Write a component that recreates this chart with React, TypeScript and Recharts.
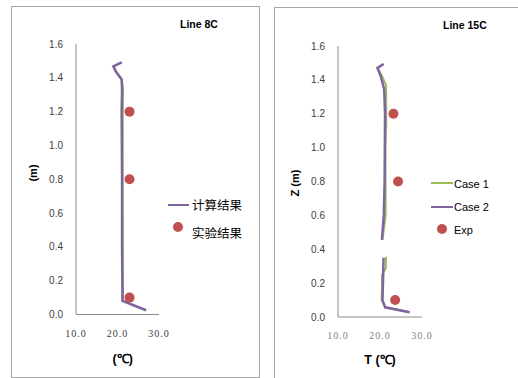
import React from 'react';
import { ScatterChart, Scatter, XAxis, YAxis } from 'recharts';

// ---- Data (T in °C, z in m) ----
const xTicks = [10, 20, 30];
const yTicks = [0, 0.2, 0.4, 0.6, 0.8, 1.0, 1.2, 1.4, 1.6];

// Line 8C
const left8CCalcT = [21.0, 19.0, 19.6, 21.0, 21.1, 21.0, 21.1, 21.1, 21.2, 26.9];
const left8CCalcZ = [1.492, 1.468, 1.437, 1.39, 1.33, 1.2, 0.8, 0.4, 0.08, 0.025];
const left8CHiddenT = [21.0, 19.1, 19.7, 21.1, 21.4, 21.35, 21.3, 21.35, 21.4, 26.9];
const left8CHiddenZ = [1.492, 1.468, 1.437, 1.39, 1.33, 1.2, 0.8, 0.3, 0.08, 0.025];
const left8CExpT = [22.9, 22.9, 22.9];
const left8CExpZ = [1.2, 0.8, 0.1];

// Line 15C
const case2UpperT = [20.84, 19.4, 20.2, 21.0, 21.2, 21.1, 20.9, 20.45];
const case2UpperZ = [1.494, 1.47, 1.42, 1.344, 1.2, 0.8, 0.6, 0.455];
const case2LowerT = [20.84, 20.8, 20.6, 21.24, 27.06];
const case2LowerZ = [0.35, 0.297, 0.1, 0.057, 0.028];
const case1UpperT = [20.84, 19.4, 20.3, 21.45, 21.5, 21.3, 21.35, 20.6];
const case1UpperZ = [1.494, 1.47, 1.43, 1.37, 1.15, 1.0, 0.6, 0.455];
const case1LowerT = [21.4, 21.4, 20.5, 20.4, 21.24, 27.06];
const case1LowerZ = [0.356, 0.29, 0.25, 0.1, 0.057, 0.028];
const exp15CT = [23.2, 24.3, 23.6];
const exp15CZ = [1.2, 0.8, 0.1];

const zip = (t: number[], z: number[]) => t.map((T, i) => ({ T, z: z[i] }));

const PURPLE = '#8064A2';
const GREEN = '#9BBB59';
const RED = '#C0504D';

const noShape = () => <g />;
const dotShape = (p: any) => <circle cx={p.cx} cy={p.cy} r={5} fill={RED} />;

const sans = '"Liberation Sans", Arial, sans-serif';
const serif = '"Liberation Serif", "DejaVu Serif", serif';
const cjk = '"Noto Sans CJK SC", sans-serif';

function renderAxes(xTickColor: string) {
  return [
    <XAxis
      key="x"
      type="number"
      dataKey="T"
      domain={[10, 30]}
      ticks={xTicks}
      tickFormatter={(v: number) => v.toFixed(1)}
      tickLine={false}
      tickSize={6}
      tickMargin={9}
      height={30}
      axisLine={{ stroke: '#8c8c8c', strokeWidth: 1 }}
      tick={{ fill: xTickColor, fontSize: 10, fontFamily: serif, letterSpacing: 1 }}
      interval={0}
    />,
    <YAxis
      key="y"
      type="number"
      dataKey="z"
      domain={[0, 1.6]}
      ticks={yTicks}
      tickFormatter={(v: number) => v.toFixed(1)}
      tickLine={false}
      tickSize={6}
      tickMargin={7}
      width={40}
      axisLine={{ stroke: '#8c8c8c', strokeWidth: 1 }}
      tick={{ fill: '#404040', fontSize: 10, fontFamily: sans }}
      interval={0}
    />,
  ];
}

const abs = (style: React.CSSProperties): React.CSSProperties => ({ position: 'absolute', whiteSpace: 'nowrap', ...style });

export default function App() {
  return (
    <div style={{ position: 'absolute', left: 0, top: 0, width: 518, height: 378, overflow: 'hidden', background: '#fff' }}>
      {/* panel borders */}
      <div style={abs({ left: 11, top: 6, width: 247, height: 370, border: '1px solid #a6a6a6' })} />
      <div style={abs({ left: 274, top: 7, width: 260, height: 380, border: '1px solid #a6a6a6' })} />

      {/* Left chart: Line 8C */}
      <div style={abs({ left: 0, top: 0 })}>
        <ScatterChart width={262} height={378} margin={{ top: 44, right: 103, bottom: 33.5, left: 36 }}>
          {renderAxes('#3a3a3a')}
          <Scatter data={zip(left8CHiddenT, left8CHiddenZ)} shape={noShape} line={{ stroke: GREEN, strokeWidth: 1.5 }} isAnimationActive={false} />
          <Scatter data={zip(left8CCalcT, left8CCalcZ)} shape={noShape} line={{ stroke: PURPLE, strokeWidth: 2.5 }} isAnimationActive={false} />
          <Scatter data={zip(left8CExpT, left8CExpZ)} shape={dotShape} fill={RED} isAnimationActive={false} />
        </ScatterChart>
      </div>

      {/* Right chart: Line 15C */}
      <div style={abs({ left: 262, top: 0 })}>
        <ScatterChart width={256} height={378} margin={{ top: 46, right: 96, bottom: 31, left: 36 }}>
          {renderAxes('#808080')}
          <Scatter data={zip(case1UpperT, case1UpperZ)} shape={noShape} line={{ stroke: GREEN, strokeWidth: 2 }} isAnimationActive={false} />
          <Scatter data={zip(case1LowerT, case1LowerZ)} shape={noShape} line={{ stroke: GREEN, strokeWidth: 2 }} isAnimationActive={false} />
          <Scatter data={zip(case2UpperT, case2UpperZ)} shape={noShape} line={{ stroke: PURPLE, strokeWidth: 2.5 }} isAnimationActive={false} />
          <Scatter data={zip(case2LowerT, case2LowerZ)} shape={noShape} line={{ stroke: PURPLE, strokeWidth: 2.5 }} isAnimationActive={false} />
          <Scatter data={zip(exp15CT, exp15CZ)} shape={dotShape} fill={RED} isAnimationActive={false} />
        </ScatterChart>
      </div>

      {/* Titles */}
      <div style={abs({ left: 180, top: 18, fontFamily: sans, fontWeight: 'bold', fontSize: 10.5, color: '#000' })}>Line 8C</div>
      <div style={abs({ left: 443, top: 19, fontFamily: sans, fontWeight: 'bold', fontSize: 10.5, color: '#000' })}>Line 15C</div>

      {/* Y axis titles */}
      <div style={abs({ left: 33, top: 173, transform: 'translate(-50%, -50%) rotate(-90deg)', fontFamily: sans, fontWeight: 'bold', fontSize: 11, color: '#000' })}>(m)</div>
      <div style={abs({ left: 295, top: 183, transform: 'translate(-50%, -50%) rotate(-90deg)', fontFamily: sans, fontWeight: 'bold', fontSize: 11, color: '#000' })}>Z (m)</div>

      {/* X axis titles */}
      <div style={abs({ left: 122.7, top: 358, transform: 'translate(-50%, -50%)', fontFamily: sans, fontWeight: 'bold', fontSize: 12.5, color: '#000' })}>(℃)</div>
      <div style={abs({ left: 380, top: 359, transform: 'translate(-50%, -50%)', fontFamily: sans, fontWeight: 'bold', fontSize: 12.5, color: '#000' })}>T (℃)</div>

      {/* Left legend */}
      <div style={abs({ left: 168, top: 203.75, width: 21, height: 2.5, background: PURPLE })} />
      <div style={abs({ left: 192, top: 205, transform: 'translateY(-50%)', fontFamily: cjk, fontSize: 12.5, color: '#000', lineHeight: 1 })}>计算结果</div>
      <div style={abs({ left: 173, top: 222, width: 10, height: 10, borderRadius: '50%', background: RED })} />
      <div style={abs({ left: 192, top: 232.5, transform: 'translateY(-50%)', fontFamily: cjk, fontSize: 12.5, color: '#000', lineHeight: 1 })}>实验结果</div>

      {/* Right legend */}
      <div style={abs({ left: 431, top: 182.3, width: 22, height: 2, background: GREEN })} />
      <div style={abs({ left: 454, top: 183.5, transform: 'translateY(-50%)', fontFamily: sans, fontSize: 11, color: '#000', lineHeight: 1 })}>Case 1</div>
      <div style={abs({ left: 431, top: 205.5, width: 22, height: 2.5, background: PURPLE })} />
      <div style={abs({ left: 454, top: 206.7, transform: 'translateY(-50%)', fontFamily: sans, fontSize: 11, color: '#000', lineHeight: 1 })}>Case 2</div>
      <div style={abs({ left: 436.7, top: 224.3, width: 10, height: 10, borderRadius: '50%', background: RED })} />
      <div style={abs({ left: 454, top: 229.5, transform: 'translateY(-50%)', fontFamily: sans, fontSize: 11, color: '#000', lineHeight: 1 })}>Exp</div>
    </div>
  );
}
